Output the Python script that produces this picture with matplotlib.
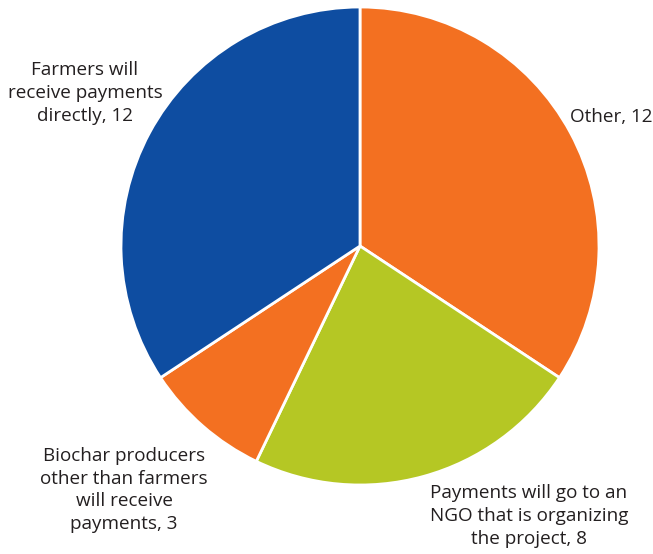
import matplotlib.pyplot as plt

labels = ['Other, 12',
          'Payments will go to an\nNGO that is organizing\nthe project, 8',
          'Biochar producers\nother than farmers\nwill receive\npayments, 3',
          'Farmers will\nreceive payments\ndirectly, 12']
values = [12, 8, 3, 12]
colors = ['#F37021', '#B5C724', '#F37021', '#0E4DA1']

plt.rcParams['font.family'] = ['Open Sans', 'DejaVu Sans']

fig = plt.figure(figsize=(6.53, 5.54), dpi=100)
ax = fig.add_axes([0, 0, 1, 1])

ax.pie(values, colors=colors, startangle=90, counterclock=False,
       center=(360, 308), radius=239, frame=True,
       wedgeprops=dict(edgecolor='white', linewidth=2))
ax.set_xlim(0, 653)
ax.set_ylim(0, 554)
ax.set_aspect('equal')
ax.axis('off')

# label placement (pixel coords, y from bottom)
pos = [(570, 437, 'left'), (529, 38, 'center'), (124, 64, 'center'), (85, 461, 'center')]
for lab, (x, y, ha) in zip(labels, pos):
    ax.text(x, y, lab, ha=ha, va='center', fontsize=13.6, color='#231F20',
            linespacing=1.35)

fig.savefig('out.png', dpi=100)
